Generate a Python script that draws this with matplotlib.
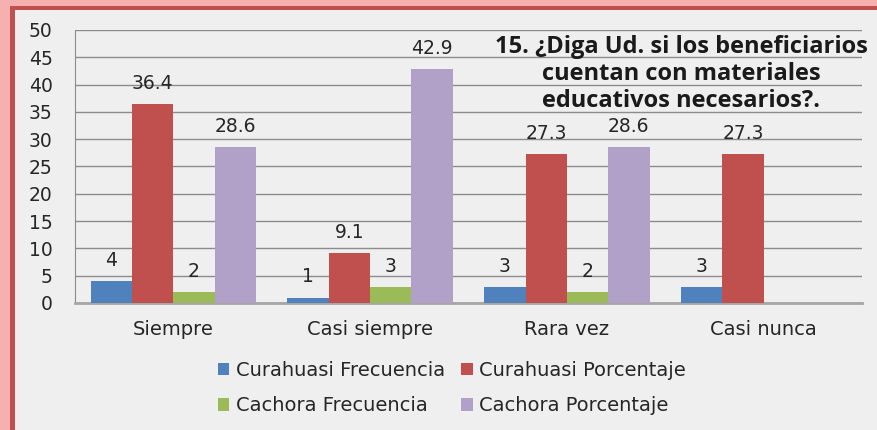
import matplotlib
matplotlib.use("Agg")
import matplotlib.pyplot as plt
import numpy as np
from matplotlib.patches import Rectangle

plt.rcParams["font.family"] = ["DejaVu Sans"]

categories = ["Siempre", "Casi siempre", "Rara vez", "Casi nunca"]
series_names = ["Curahuasi Frecuencia", "Curahuasi Porcentaje",
                "Cachora Frecuencia", "Cachora Porcentaje"]
cur_frec = [4, 1, 3, 3]
cur_porc = [36.4, 9.1, 27.3, 27.3]
cach_frec = [2, 3, 2, np.nan]
cach_porc = [28.6, 42.9, 28.6, np.nan]
label_text = [
    ["4", "1", "3", "3"],
    ["36.4", "9.1", "27.3", "27.3"],
    ["2", "3", "2", ""],
    ["28.6", "42.9", "28.6", ""],
]
colors = ["#4F81BD", "#C0504D", "#9BBB59", "#B1A0C7"]
title = "15. ¿Diga Ud. si los beneficiarios\ncuentan con materiales\neducativos necesarios?."

W, H = 877, 430
fig = plt.figure(figsize=(W / 100, H / 100), dpi=100)
fig.patch.set_facecolor("#EFEFEF")

# border decoration (pink glow + dark red line on left/top)
fig.patches.append(Rectangle((0, 0), 10 / W, 1, transform=fig.transFigure,
                             facecolor="#F6B0B0", edgecolor="none", zorder=0))
fig.patches.append(Rectangle((0, 1 - 6 / H), 1, 6 / H, transform=fig.transFigure,
                             facecolor="#F6B0B0", edgecolor="none", zorder=0))
fig.patches.append(Rectangle((10 / W, 0), 5 / W, 1 - 6 / H, transform=fig.transFigure,
                             facecolor="#C0504D", edgecolor="none", zorder=1))
fig.patches.append(Rectangle((10 / W, 1 - 10 / H), 1 - 10 / W, 4 / H, transform=fig.transFigure,
                             facecolor="#C0504D", edgecolor="none", zorder=1))

ax = fig.add_axes([75 / W, 127 / H, 787 / W, 273 / H])
ax.set_facecolor("#EFEFEF")

x = np.arange(len(categories))
bw = 0.21
data = [cur_frec, cur_porc, cach_frec, cach_porc]
bars = []
for i, (vals, col, name) in enumerate(zip(data, colors, series_names)):
    pos = x + (i - 1.5) * bw
    b = ax.bar(pos, vals, width=bw, color=col, label=name, zorder=3)
    bars.append(b)
    for j, (p, v) in enumerate(zip(pos, vals)):
        if not np.isnan(v) and label_text[i][j]:
            ax.annotate(label_text[i][j], (p, v), xytext=(0, 8),
                        textcoords="offset points", ha="center", va="bottom",
                        fontsize=13.5, color="#262626", zorder=4)

ax.set_xlim(-0.5, 3.5)
ax.set_ylim(0, 50)
ax.set_yticks(np.arange(0, 51, 5))
ax.yaxis.grid(True, color="#8C8C8C", linewidth=1)
ax.set_axisbelow(True)
ax.set_xticks(x)
ax.set_xticklabels(categories, fontsize=14, color="#262626")
ax.tick_params(axis="y", labelsize=13.5, labelcolor="#262626", length=0, pad=16)
ax.tick_params(axis="x", length=0, pad=12)
for s in ["top", "right"]:
    ax.spines[s].set_visible(False)
ax.spines["left"].set_color("#8C8C8C")
ax.spines["bottom"].set_color("#A6A6A6")
ax.spines["bottom"].set_linewidth(2)

ax.text(0.77, 0.983, title, transform=ax.transAxes, ha="center", va="top",
        fontsize=17, fontweight="bold", family="Open Sans", color="#1a1a1a",
        linespacing=1.165, zorder=5, clip_on=False)

order = [0, 2, 1, 3]
leg = fig.legend([bars[k] for k in order], [series_names[k] for k in order],
                 ncol=2, loc="center", bbox_to_anchor=(452 / W, 1 - 388 / H),
                 frameon=False, fontsize=14, handlelength=0.6, handleheight=0.6,
                 handletextpad=0.35, columnspacing=0.8, labelspacing=0.85)
for t in leg.get_texts():
    t.set_color("#262626")

fig.savefig("out.png", dpi=100, facecolor=fig.get_facecolor())
